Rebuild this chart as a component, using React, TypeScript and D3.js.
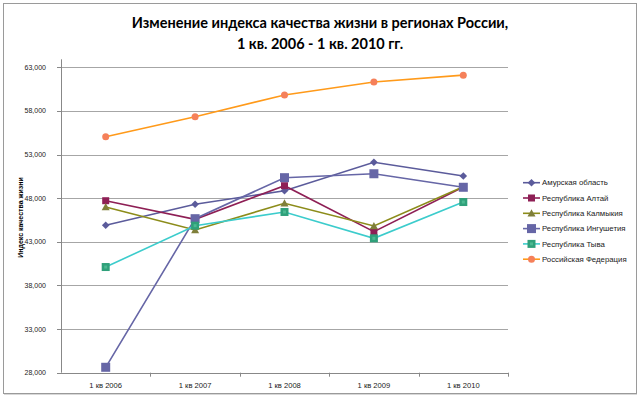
import React from "react";
import * as d3 from "d3";

const categories = ["1 кв 2006", "1 кв 2007", "1 кв 2008", "1 кв 2009", "1 кв 2010"];
const yTicks = [28000, 33000, 38000, 43000, 48000, 53000, 58000, 63000];

const seriesNames = [
  "Амурская область",
  "Республика Алтай",
  "Республика Калмыкия",
  "Республика Ингушетия",
  "Республика Тыва",
  "Российская Федерация",
];
const amur = [44890, 47300, 48860, 52110, 50540];
const altai = [47710, 45580, 49430, 44160, 49280];
const kalmykia = [46990, 44350, 47410, 44810, 49300];
const ingushetia = [28620, 45650, 50350, 50800, 49250];
const tyva = [40110, 44850, 46420, 43400, 47560];
const russia = [55045, 57340, 59820, 61310, 62100];

const seriesValues = [amur, altai, kalmykia, ingushetia, tyva, russia];
const lineColors = ["#5B5B9B", "#8E1F55", "#8C8C1A", "#6666A6", "#3CCCCC", "#FF9A1A"];
const markerColors = ["#5B5B9B", "#8E1F55", "#7F7F3A", "#6666A6", "#2FA07A", "#F5805A"];
const markerTypes = ["diamond", "square", "triangle", "bigsquare", "square2", "circle"];

const FONT = "'Liberation Sans', Arial, sans-serif";

function Marker({ type, x, y, color }: { type: string; x: number; y: number; color: string }) {
  if (type === "diamond") {
    const s = 3.8;
    return <path d={`M${x},${y - s}L${x + s},${y}L${x},${y + s}L${x - s},${y}Z`} fill={color} />;
  }
  if (type === "square") return <rect x={x - 3.5} y={y - 3.5} width={7} height={7} fill={color} />;
  if (type === "bigsquare") return <rect x={x - 4.5} y={y - 4.5} width={9} height={9} fill={color} />;
  if (type === "square2")
    return (
      <g>
        <rect x={x - 4} y={y - 4} width={8} height={8} fill={color} />
        <rect x={x - 1.5} y={y - 1.5} width={3} height={3} fill="#5fc9a0" opacity={0.6} />
      </g>
    );
  if (type === "triangle") {
    const s = 4;
    return <path d={`M${x},${y - s}L${x + s},${y + s * 0.8}L${x - s},${y + s * 0.8}Z`} fill={color} />;
  }
  return <circle cx={x} cy={y} r={3.5} fill={color} />;
}

export default function App() {
  const W = 640, H = 398;
  const left = 61, right = 508, top = 67.3, bottom = 372.7;
  const x = d3.scaleBand<string>().domain(categories).range([left, right]);
  const y = d3.scaleLinear().domain([28000, 63000]).range([bottom, top]);
  const fmt = d3.format(",.0f");
  const line = d3
    .line<number>()
    .x((_, i) => (x(categories[i]) as number) + x.bandwidth() / 2)
    .y((v) => y(v));

  const legendX = 523, legendY0 = 182.7, legendStep = 15.3;

  return (
    <svg width={W} height={H} style={{ position: "absolute", left: 0, top: 0 }}>
      <rect x={0} y={0} width={W} height={H} fill="#fff" />
      <rect x={3.5} y={3.5} width={633} height={390} fill="#fff" stroke="#9a9a9a" strokeWidth={1} />
      <line x1={4} y1={394.5} x2={637} y2={394.5} stroke="#d8d8d8" strokeWidth={1} />
      <text x={320} y={28} textAnchor="middle" fontFamily="Lato, sans-serif" fontWeight="bold" fontSize={14.5} fill="#000">
        Изменение индекса качества жизни в регионах России,
      </text>
      <text x={320} y={49} textAnchor="middle" fontFamily="Lato, sans-serif" fontWeight="bold" fontSize={14.5} fill="#000">
        1 кв. 2006 - 1 кв. 2010 гг.
      </text>
      {yTicks.map((t) => (
        <g key={t}>
          {t !== 28000 && (
            <line x1={left} x2={right} y1={Math.round(y(t)) + 0.5} y2={Math.round(y(t)) + 0.5} stroke="#a6a6a6" />
          )}
          <line x1={left - 4} x2={left} y1={Math.round(y(t)) + 0.5} y2={Math.round(y(t)) + 0.5} stroke="#888" />
          <text x={46} y={y(t) + 2.5} textAnchor="end" fontFamily={FONT} fontSize={7} fill="#222">
            {fmt(t)}
          </text>
        </g>
      ))}
      <line x1={left + 0.5} x2={left + 0.5} y1={top - 8} y2={bottom} stroke="#888" />
      <line x1={left} x2={right} y1={Math.round(bottom) + 0.5} y2={Math.round(bottom) + 0.5} stroke="#888" />
      {categories.map((c, i) => {
        const bx = Math.round((x(c) as number) + x.bandwidth()) + 0.5;
        return (
          <g key={c}>
            <line x1={bx} x2={bx} y1={bottom} y2={bottom + 4} stroke="#888" />
            <text
              x={(x(c) as number) + x.bandwidth() / 2}
              y={388}
              textAnchor="middle"
              fontFamily={FONT}
              fontSize={7.6}
              fill="#222"
            >
              {c}
            </text>
          </g>
        );
      })}
      <text
        transform={`translate(23,217.5) rotate(-90)`}
        textAnchor="middle"
        fontFamily={FONT}
        fontWeight="bold"
        fontSize={7}
        fill="#000"
      >
        Индекс качества жизни
      </text>
      {seriesValues.map((vals, si) => (
        <g key={si}>
          <path d={line(vals) as string} fill="none" stroke={lineColors[si]} strokeWidth={1.6} />
          {vals.map((v, i) => (
            <Marker
              key={i}
              type={markerTypes[si]}
              x={(x(categories[i]) as number) + x.bandwidth() / 2}
              y={y(v)}
              color={markerColors[si]}
            />
          ))}
        </g>
      ))}
      {seriesNames.map((n, i) => {
        const ly = legendY0 + i * legendStep;
        return (
          <g key={n}>
            <line x1={legendX} x2={legendX + 17} y1={ly} y2={ly} stroke={lineColors[i]} strokeWidth={1.6} />
            <Marker type={markerTypes[i]} x={legendX + 8.5} y={ly} color={markerColors[i]} />
            <text x={legendX + 19} y={ly + 2.6} fontFamily={FONT} fontSize={7.8} fill="#222">
              {n}
            </text>
          </g>
        );
      })}
    </svg>
  );
}
